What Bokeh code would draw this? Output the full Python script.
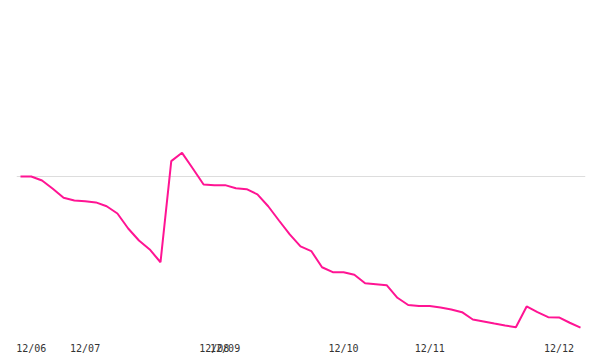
from bokeh.plotting import figure
from bokeh.models import FixedTicker, Range1d, Span
from bokeh.embed import file_html
from bokeh.resources import INLINE

# Series values (one per period, evenly spaced)
values = [100, 100, 97.5, 92.3, 86.7, 85, 84.6, 83.8, 81.4, 76.9,
          67.5, 60, 54.4, 46.4, 109.6, 114.8, 105, 95, 94.6, 94.6,
          92.7, 92.1, 88.8, 81.4, 72.5, 63.8, 56.3, 53.4, 43.3, 40.2,
          40.2, 38.6, 33.3, 32.7, 32.1, 24.2, 19.7, 19, 19, 18.1,
          16.9, 15.2, 10.6, 9.4, 8.1, 6.9, 5.8, 18.8, 15.2, 12.1,
          11.9, 8.6, 5.6]
x_index = list(range(len(values)))

# Tick labels and the index where each appears
tick_positions = [1, 6, 18, 19, 30, 38, 50]
tick_labels = ["12/06", "12/07", "12/08", "12/09", "12/10", "12/11", "12/12"]
reference_level = 100

p = figure(width=600, height=360, output_backend="svg", toolbar_location=None,
           x_range=Range1d(-0.371, 52.464), y_range=Range1d(0, 210),
           min_border_left=16, min_border_right=15, min_border_top=0,
           min_border_bottom=24)
p.outline_line_color = None
p.background_fill_color = "white"
p.border_fill_color = "white"
p.xgrid.visible = False
p.ygrid.visible = False
p.yaxis.visible = False

p.add_layout(Span(location=reference_level, dimension="width",
                  line_color="#dddddd", line_width=1, level="underlay"))

p.line(x_index, values, line_color="#ff1493", line_width=2)

p.xaxis.ticker = FixedTicker(ticks=tick_positions)
p.xaxis.major_label_overrides = {t: l for t, l in zip(tick_positions, tick_labels)}
p.xaxis.axis_line_color = None
p.xaxis.major_tick_line_color = None
p.xaxis.minor_tick_line_color = None
p.xaxis.major_tick_out = 0
p.xaxis.major_tick_in = 0
p.xaxis.major_label_standoff = 6
p.xaxis.major_label_text_font = "DejaVu Sans Mono"
p.xaxis.major_label_text_font_size = "10px"
p.xaxis.major_label_text_color = "#333333"

open("out.html", "w").write(file_html(p, INLINE))
